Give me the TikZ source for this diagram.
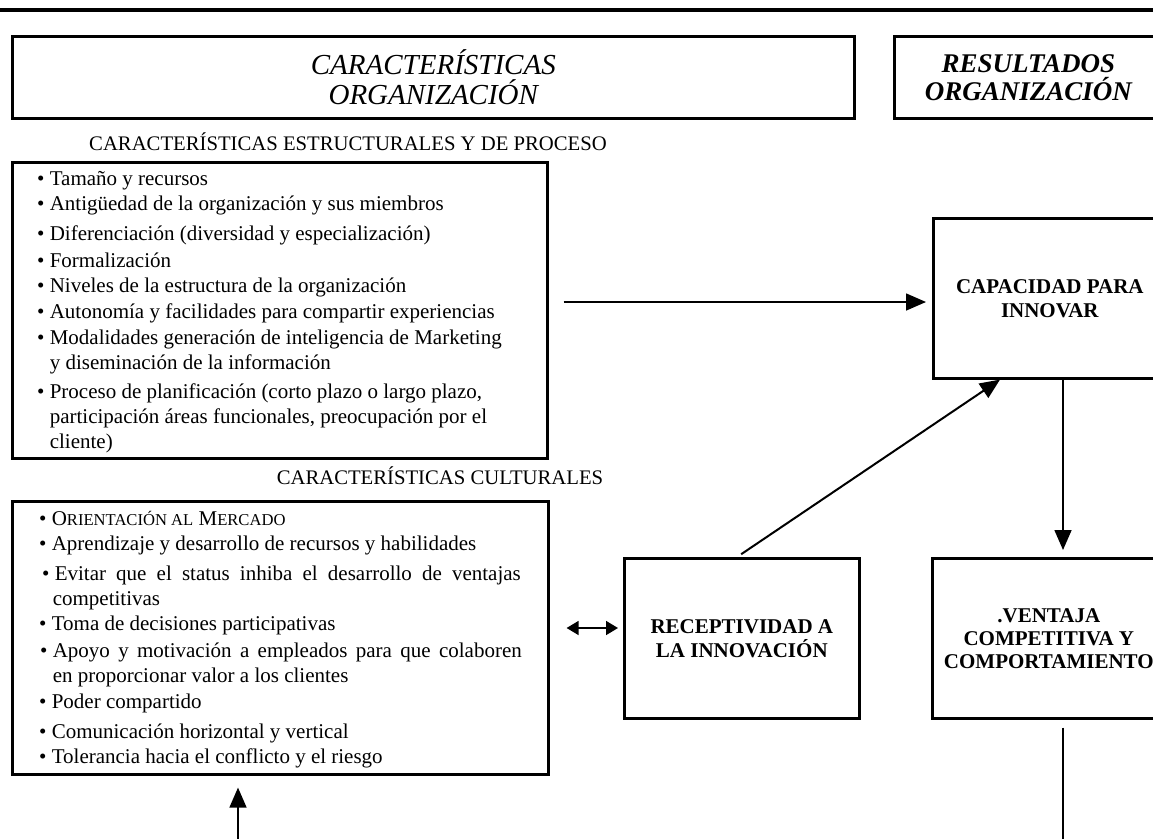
\documentclass[tikz,border=0pt]{standalone}
\usepackage{fontspec}
\setmainfont{Liberation Serif}
\usetikzlibrary{arrows.meta,calc}
\newcommand{\fauxsc}[1]{{\fontsize{16.6}{20}\selectfont #1}}

\begin{document}
\begin{tikzpicture}[x=1pt,y=-1pt,
  frame/.style={draw, line width=2.6pt, inner sep=0pt, anchor=north west},
  item/.style={anchor=west, inner sep=0pt, font=\fontsize{21}{25}\selectfont,
    text height=15pt, text depth=5pt},
  heading/.style={inner sep=0pt, font=\fontsize{20.7}{25}\selectfont},
  boxlabel/.style={align=center, font=\bfseries\fontsize{21}{24}\selectfont},
  link/.style={line width=1.6pt},
  tip/.style={-{Triangle[length=20pt,width=17pt]}},
]
\useasboundingbox (0,0) rectangle (1153,838);
\clip (0,0) rectangle (1153,838);

% top rule
\coordinate (tl) at (0,10);
\coordinate (tr) at (1153,10);
\draw[line width=3.2pt] (tl) -- (tr);

% column headers
\node[frame, minimum width=842pt, minimum height=82pt, align=center,
  font=\itshape\fontsize{29}{30}\selectfont] (hdrA) at (11,35)
  {CARACTERÍSTICAS\\ORGANIZACIÓN};
\node[frame, minimum width=268pt, minimum height=82pt, align=center,
  font=\bfseries\itshape\fontsize{27}{28}\selectfont] (hdrB) at (893,35)
  {RESULTADOS\\ORGANIZACIÓN};

% section headings
\node[heading] (hEst) at (348,142) {CARACTERÍSTICAS ESTRUCTURALES Y DE PROCESO};
\node[heading] (hCul) at (440,476) {CARACTERÍSTICAS CULTURALES};

% structural and process characteristics
\node[frame, minimum width=535pt, minimum height=296pt] (struct) at (11,161) {};
\node[item] (s1) at (37,180) {•\ Tamaño y recursos};
\node[item] (s2) at (37,205) {•\ Antigüedad de la organización y sus miembros};
\node[item] (s3) at (37,235) {•\ Diferenciación (diversidad y especialización)};
\node[item] (s4) at (37,262) {•\ Formalización};
\node[item] (s5) at (37,287) {•\ Niveles de la estructura de la organización};
\node[item] (s6) at (37,313) {•\ Autonomía y facilidades para compartir experiencias};
\node[item] (s7) at (37,339) {•\ Modalidades generación de inteligencia de Marketing};
\node[item] (s7b) at (37,364) {\phantom{•}\ y diseminación de la información};
\node[item] (s8) at (37,393) {•\ Proceso de planificación (corto plazo o largo plazo,};
\node[item] (s8b) at (37,418) {\phantom{•}\ participación áreas funcionales, preocupación por el};
\node[item] (s8c) at (37,443) {\phantom{•}\ cliente)};

% cultural characteristics
\node[frame, minimum width=536pt, minimum height=273pt] (cult) at (11,500) {};
\node[item] (c1) at (39,520) {•\ O\fauxsc{RIENTACIÓN AL} M\fauxsc{ERCADO}};
\node[item] (c2) at (39,545) {•\ Aprendizaje y desarrollo de recursos y habilidades};
\node[item] (c3) at (42,575) {•\ \makebox[466pt][s]{Evitar que el status inhiba el desarrollo de ventajas}};
\node[item] (c3b) at (40,600) {\phantom{•}\ competitivas};
\node[item] (c4) at (39,625) {•\ Toma de decisiones participativas};
\node[item] (c5) at (40,652) {•\ \makebox[469pt][s]{Apoyo y motivación a empleados para que colaboren}};
\node[item] (c5b) at (40,677) {\phantom{•}\ en proporcionar valor a los clientes};
\node[item] (c6) at (39,703) {•\ Poder compartido};
\node[item] (c7) at (39,733) {•\ Comunicación horizontal y vertical};
\node[item] (c8) at (39,758) {•\ Tolerancia hacia el conflicto y el riesgo};

% outcome boxes
\node[frame, minimum width=235pt, minimum height=160pt, boxlabel] (recep) at (623,557)
  {RECEPTIVIDAD A\\LA INNOVACIÓN};
\node[frame, minimum width=233pt, minimum height=160pt, boxlabel] (cap) at (932,217)
  {CAPACIDAD PARA\\INNOVAR};
\node[frame, minimum width=233pt, minimum height=160pt, boxlabel,
  font=\bfseries\fontsize{21}{23}\selectfont] (vent) at (931,557)
  {.VENTAJA\\COMPETITIVA Y\\COMPORTAMIENTO};

% connectors
\coordinate (yh) at (0,302);
\coordinate (yd) at (0,628);
\coordinate (vx) at (1063,0);
\coordinate (dtip) at (1000,0);
\coordinate (bL) at (238,850);
\coordinate (bR) at (1063,850);

\draw[link, tip, shorten <=15pt, shorten >=6pt] (struct.east |- yh) -- (cap.west |- yh);
\draw[link, {Triangle[length=12pt,width=14pt]}-{Triangle[length=12pt,width=14pt]},
  shorten <=17pt, shorten >=5pt] (cult.east |- yd) -- (recep.west |- yd);
\draw[line width=2pt, tip, shorten <=5pt]
  ($(recep.north west)!0.48!(recep.north east)$) -- (cap.south -| dtip);
\draw[link, tip, shorten >=7pt] (cap.south -| vx) -- (vent.north -| vx);
\draw[link, shorten <=8pt] (vent.south -| vx) -- (bR);
\draw[link, tip, shorten >=12pt] (bL) -- (cult.south -| bL);
\end{tikzpicture}
\end{document}
